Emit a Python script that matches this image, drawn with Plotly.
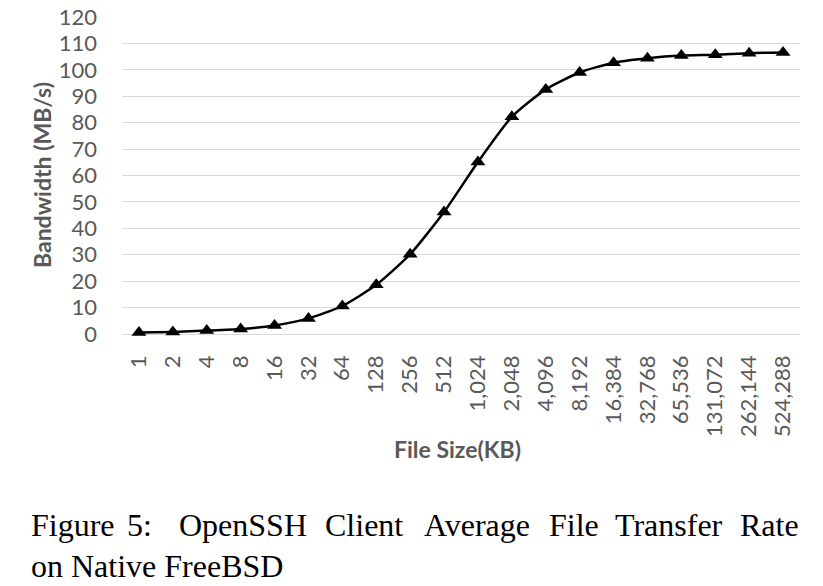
import plotly.graph_objects as go

file_sizes = ["1", "2", "4", "8", "16", "32", "64", "128", "256", "512",
              "1,024", "2,048", "4,096", "8,192", "16,384", "32,768",
              "65,536", "131,072", "262,144", "524,288"]
bandwidth = [0.6, 0.8, 1.3, 1.9, 3.2, 5.9, 10.6, 18.6, 30.2, 46.2,
             65.1, 82.2, 92.6, 99.0, 102.7, 104.4, 105.4, 105.7, 106.3, 106.6]
y_ticks = list(range(0, 121, 10))

W, H = 823, 586
ML, MR, MT, MB = 122, 23, 17, 252
PW, PH = W - ML - MR, H - MT - MB

def px(x):
    return (x - ML) / PW

def py(y):
    return 1 - (y - MT) / PH

fig = go.Figure()
fig.add_trace(go.Scatter(
    x=file_sizes, y=bandwidth, mode="lines+markers",
    line=dict(color="black", width=2.5, shape="spline", smoothing=0.6),
    marker=dict(symbol="triangle-up", size=13, color="black"),
    cliponaxis=False, showlegend=False,
))

axis_font = dict(family="Lato, Open Sans, sans-serif", size=22, color="#595959")
fig.update_layout(
    width=W, height=H,
    margin=dict(l=ML, r=MR, t=MT, b=MB, autoexpand=False),
    paper_bgcolor="white", plot_bgcolor="white",
    xaxis=dict(type="category", tickangle=-90, tickfont=axis_font,
               showgrid=False, showline=False, zeroline=False, automargin=False,
               ticklabelstandoff=16, range=[-0.5, 19.5]),
    yaxis=dict(range=[0, 120], tickvals=y_ticks, tickfont=axis_font,
               showgrid=True, gridcolor="#d9d9d9", gridwidth=1.3, automargin=False,
               zeroline=True, zerolinecolor="#d9d9d9", zerolinewidth=1.3,
               showline=False, ticklabelstandoff=24),
)

title_font = dict(family="Lato, Open Sans, sans-serif", size=23, color="#595959")
fig.add_annotation(text="<b>File Size(KB)</b>", xref="paper", yref="paper",
                   x=px(457), y=py(449), showarrow=False, font=title_font,
                   xanchor="center", yanchor="middle")
fig.add_annotation(text="<b>Bandwidth (MB/s)</b>", xref="paper", yref="paper",
                   x=px(42), y=py(175), showarrow=False, font=title_font,
                   textangle=-90, xanchor="center", yanchor="middle")

cap_font = dict(family="Liberation Serif, Times New Roman, serif", size=32, color="black")
words = [("Figure", 29), ("5:", 125), ("OpenSSH", 177), ("Client", 323),
         ("Average", 422), ("File", 547), ("Transfer", 613), ("Rate", 738)]
for w, x in words:
    fig.add_annotation(text=w, xref="paper", yref="paper", x=px(x), y=py(525),
                       showarrow=False, font=cap_font, xanchor="left", yanchor="middle")
fig.add_annotation(text="on Native FreeBSD", xref="paper", yref="paper",
                   x=px(29), y=py(566), showarrow=False, font=cap_font,
                   xanchor="left", yanchor="middle")

fig.write_html("out.html")
